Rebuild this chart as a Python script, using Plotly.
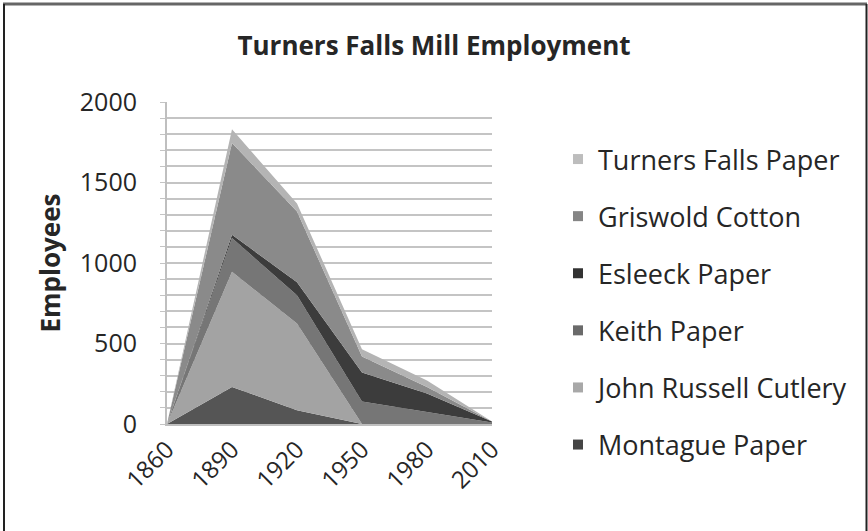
import plotly.graph_objects as go

years = [1860, 1890, 1920, 1950, 1980, 2010]
year_labels = ["1860", "1890", "1920", "1950", "1980", "2010"]

montague_paper = [0, 230, 85, 0, 0, 0]
john_russell_cutlery = [0, 715, 540, 0, 0, 0]
keith_paper = [0, 210, 175, 140, 75, 10]
esleeck_paper = [0, 20, 80, 180, 115, 5]
griswold_cotton = [0, 570, 440, 100, 40, 0]
turners_falls_paper = [0, 85, 50, 45, 40, 0]

series = [
    ("Montague Paper", montague_paper, "#555555", "#454545"),
    ("John Russell Cutlery", john_russell_cutlery, "#a3a3a3", "#a8a8a8"),
    ("Keith Paper", keith_paper, "#767676", "#6a6a6a"),
    ("Esleeck Paper", esleeck_paper, "#3c3c3c", "#333333"),
    ("Griswold Cotton", griswold_cotton, "#8a8a8a", "#858585"),
    ("Turners Falls Paper", turners_falls_paper, "#b4b4b4", "#bdbdbd"),
]

fig = go.Figure()
for name, vals, fill, legcol in series:
    fig.add_trace(go.Scatter(
        x=years, y=vals, name=name, mode="lines", stackgroup="one",
        line=dict(width=0, color=fill), fillcolor=fill, showlegend=False,
        hoverinfo="x+y+name",
    ))
for i, (name, vals, fill, legcol) in enumerate(reversed(series)):
    fig.add_trace(go.Scatter(
        x=[None], y=[None], name=name, mode="markers",
        marker=dict(symbol="square", size=10, color=legcol),
        legendgroup=f"g{i}", showlegend=True,
    ))

W, H = 868, 531
ml, mr, mt, mb = 167, 376, 102, 107
pw, ph = W - ml - mr, H - mt - mb

def px_x(x):
    return (x - ml) / pw

def px_y(y):
    return (H - mb - y) / ph

txt = "#262626"
fig.update_layout(
    width=W, height=H,
    margin=dict(l=ml, r=mr, t=mt, b=mb),
    paper_bgcolor="white", plot_bgcolor="white",
    font=dict(family="Open Sans", color=txt),
    title=dict(text="<b>Turners Falls Mill Employment</b>", x=434 / W, xanchor="center",
               y=1 - 46 / H, yanchor="middle", yref="container",
               font=dict(size=26, family="Open Sans", color=txt)),
    showlegend=True,
    legend=dict(x=px_x(558), xanchor="left", y=px_y(135), yanchor="top",
                traceorder="grouped", tracegroupgap=19, maxheight=520,
                font=dict(size=27, color=txt), itemwidth=30,
                bgcolor="rgba(0,0,0,0)"),
    xaxis=dict(range=[1860, 2010], tickmode="array", tickvals=years, ticktext=year_labels,
               tickangle=-45, tickfont=dict(size=24, color=txt), showgrid=False,
               showline=True, linecolor="#bfbfbf", linewidth=2, ticks="", zeroline=False,
               fixedrange=True),
    yaxis=dict(range=[0, 2000], dtick=500, tickfont=dict(size=25, color=txt),
               showgrid=True, gridcolor="#c4c4c4", gridwidth=2,
               minor=dict(dtick=100, showgrid=True, gridcolor="#c4c4c4", gridwidth=2,
                          ticks="outside", ticklen=5, tickcolor="#c4c4c4"),
               ticks="outside", ticklen=5, tickcolor="#c4c4c4",
               showline=True, linecolor="#bfbfbf", linewidth=2, zeroline=False,
               ticklabelstandoff=18,
               title=dict(text="<b>Employees</b>", font=dict(size=26, color=txt), standoff=12),
               fixedrange=True),
)

# frame around the chart image
fig.add_shape(type="line", xref="paper", yref="paper", x0=px_x(3), x1=px_x(867),
              y0=px_y(4), y1=px_y(4), line=dict(color="#666666", width=3))
fig.add_shape(type="line", xref="paper", yref="paper", x0=px_x(4), x1=px_x(4),
              y0=px_y(4), y1=px_y(531), line=dict(color="#222222", width=2))
fig.add_shape(type="line", xref="paper", yref="paper", x0=px_x(866.5), x1=px_x(866.5),
              y0=px_y(4), y1=px_y(531), line=dict(color="#222222", width=2))

fig.write_html("out.html")
